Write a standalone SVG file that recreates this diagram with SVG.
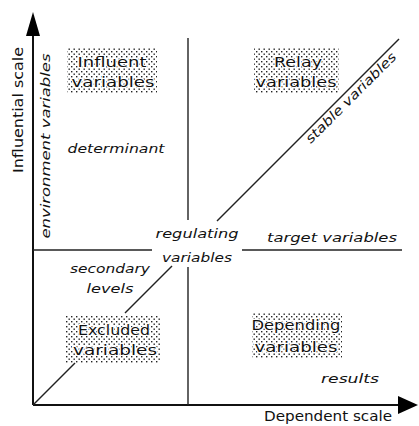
<svg xmlns="http://www.w3.org/2000/svg" width="419" height="426" viewBox="0 0 419 426">
<defs>
<pattern id="dots" width="5" height="5" patternUnits="userSpaceOnUse">
<rect x="1" y="1" width="1.4" height="1.4" fill="#222"/>
<rect x="3.5" y="3.5" width="1.4" height="1.4" fill="#222"/>
</pattern>
<style>
.ax{stroke:#111;stroke-width:2;fill:none}
.ln{stroke:#222;stroke-width:1.4;fill:none}
.box{fill:url(#dots);stroke:none}
.bt{font-family:"DejaVu Sans",sans-serif;font-size:14px;fill:#111;text-anchor:middle;stroke:#fff;stroke-width:2px;paint-order:stroke}
.it{font-family:"DejaVu Sans",sans-serif;font-size:13px;font-style:italic;fill:#111;text-anchor:middle}
.sc{font-family:"DejaVu Sans",sans-serif;font-size:14px;fill:#111;text-anchor:middle}
</style>
</defs>
<rect width="419" height="426" fill="#fff"/>
<g id="connectors">
<line class="ax" x1="33" y1="405" x2="33" y2="34"/>
<polygon points="33,12 26,36 40,36" fill="#000"/>
<line class="ax" x1="33" y1="405" x2="400" y2="405"/>
<polygon points="418,405 398,396 398,414" fill="#000"/>
<line class="ln" x1="188" y1="38" x2="188" y2="220"/>
<line class="ln" x1="188" y1="267" x2="188" y2="405"/>
<line class="ln" x1="33" y1="250" x2="152" y2="250"/>
<line class="ln" x1="242" y1="250" x2="402" y2="250"/>
<line class="ln" x1="33" y1="405" x2="75" y2="363"/>
<line class="ln" x1="125" y1="313" x2="172" y2="266"/>
<line class="ln" x1="217" y1="221" x2="399" y2="39"/>
</g>
<g id="influent">
<rect class="box" x="67" y="48" width="90" height="45"/>
<text class="bt" x="112" y="67" textLength="69" lengthAdjust="spacingAndGlyphs">Influent</text>
<text class="bt" x="113" y="87" textLength="83" lengthAdjust="spacingAndGlyphs">variables</text>
</g>
<g id="relay">
<rect class="box" x="254" y="48" width="85" height="45"/>
<text class="bt" x="298" y="67" textLength="48" lengthAdjust="spacingAndGlyphs">Relay</text>
<text class="bt" x="296" y="87" textLength="81" lengthAdjust="spacingAndGlyphs">variables</text>
</g>
<g id="excluded">
<rect class="box" x="65" y="315" width="95" height="48"/>
<text class="bt" x="114" y="335" textLength="72" lengthAdjust="spacingAndGlyphs">Excluded</text>
<text class="bt" x="115" y="355" textLength="84" lengthAdjust="spacingAndGlyphs">variables</text>
</g>
<g id="depending">
<rect class="box" x="252" y="313" width="90" height="45"/>
<text class="bt" x="296" y="330" textLength="89" lengthAdjust="spacingAndGlyphs">Depending</text>
<text class="bt" x="296" y="352" textLength="83" lengthAdjust="spacingAndGlyphs">variables</text>
</g>
<g id="influential-scale">
<text class="sc" transform="translate(23,110) rotate(-90)" textLength="126" lengthAdjust="spacingAndGlyphs">Influential scale</text>
</g>
<g id="dependent-scale">
<text class="sc" x="328" y="421" textLength="128" lengthAdjust="spacingAndGlyphs">Dependent scale</text>
</g>
<g id="environment-variables">
<text class="it" transform="translate(50,146) rotate(-90)" textLength="185" lengthAdjust="spacingAndGlyphs">environment variables</text>
</g>
<g id="determinant">
<text class="it" x="116" y="153" textLength="97" lengthAdjust="spacingAndGlyphs">determinant</text>
</g>
<g id="stable-variables">
<text class="it" transform="translate(345.5,92.5) rotate(-45)" x="0" y="12" font-size="12" textLength="122" lengthAdjust="spacingAndGlyphs">stable variables</text>
</g>
<g id="regulating-variables">
<text class="it" x="197" y="238" textLength="83" lengthAdjust="spacingAndGlyphs">regulating</text>
<text class="it" x="197" y="262" textLength="70" lengthAdjust="spacingAndGlyphs">variables</text>
</g>
<g id="target-variables">
<text class="it" x="332" y="242" textLength="130" lengthAdjust="spacingAndGlyphs">target variables</text>
</g>
<g id="secondary-levels">
<text class="it" x="110" y="273" textLength="80" lengthAdjust="spacingAndGlyphs">secondary</text>
<text class="it" x="110" y="293" textLength="47" lengthAdjust="spacingAndGlyphs">levels</text>
</g>
<g id="results">
<text class="it" x="350" y="383" textLength="58" lengthAdjust="spacingAndGlyphs">results</text>
</g>
</svg>
